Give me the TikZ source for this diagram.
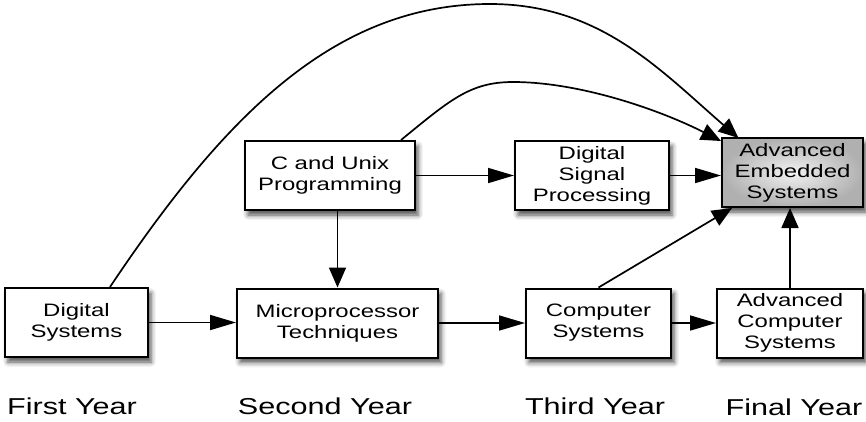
\documentclass[tikz,border=0pt]{standalone}
\usepackage{fontspec}
\setmainfont[FakeStretch=1.33]{Liberation Sans}
\usetikzlibrary{arrows.meta,shadows.blur}

\tikzset{
  course/.style={draw=black, line width=2pt, fill=white, align=center,
    minimum height=69pt, inner sep=2pt,
    font=\fontsize{18}{21}\selectfont,
    blur shadow={shadow xshift=3pt, shadow yshift=-5pt,
      shadow blur radius=5pt, shadow opacity=70}},
  goal/.style={course, inner color=gray!10, outer color=gray!62},
  yearlbl/.style={anchor=base, font=\fontsize{23}{27}\selectfont},
  link/.style={line width=1.7pt, -{Triangle[length=20pt,width=17pt]}},
  hlink/.style={line width=1.7pt, -{Triangle[length=26pt,width=15pt]}}
}

\begin{document}
\begin{tikzpicture}[x=1pt, y=-1pt]
\useasboundingbox (0,0) rectangle (866,421);

% course boxes
\node[course, minimum width=143pt] (ds)  at (76.5,322.5) {Digital\\Systems};
\node[course, minimum width=201pt] (mt)  at (337.5,323) {Microprocessor\\Techniques};
\node[course, minimum width=170pt] (cu)  at (330,175.5) {C and Unix\\Programming};
\node[course, minimum width=154pt] (dsp) at (592,175.5) {Digital\\Signal\\Processing};
\node[course, minimum width=145pt] (cs)  at (598.5,323) {Computer\\Systems};
\node[course, minimum width=146pt] (acs) at (790,323) {Advanced\\Computer\\Systems};
\node[goal,   minimum width=141pt] (aes) at (792.5,172.5) {Advanced\\Embedded\\Systems};

% year labels
\node[yearlbl] (y1) at (72,414)  {First Year};
\node[yearlbl] (y2) at (325,414) {Second Year};
\node[yearlbl] (y3) at (595,414) {Third Year};
\node[yearlbl] (y4) at (794,415) {Final Year};

% straight links
\draw[hlink] (ds.east) -- (ds.east -| mt.west);
\draw[hlink] (mt.east) -- (cs.west);
\draw[hlink] (cs.east) -- (acs.west);
\draw[hlink] (cu.east |- dsp.west) -- (dsp.west);
\draw[hlink] (dsp.east) -- (dsp.east -| aes.west);
\draw[link] (cu.south -| mt.north) -- (mt.north);
\draw[link] (acs.north) -- (acs.north |- aes.south);
\draw[link] (cs.north) -- ([xshift=11pt]aes.south west);

% curved links
\draw[link] ([xshift=33.5pt]ds.north) .. controls (225,115) and (335,4) .. (490,4)
  .. controls (600,4) and (660,70) .. ([xshift=-54pt,yshift=-1pt]aes.north);
\draw[link] ([xshift=-15pt]cu.north east) .. controls (450,100) and (470,82) .. (513,82)
  .. controls (580,82) and (660,110) .. ([yshift=-4pt]aes.north west);
\end{tikzpicture}
\end{document}
